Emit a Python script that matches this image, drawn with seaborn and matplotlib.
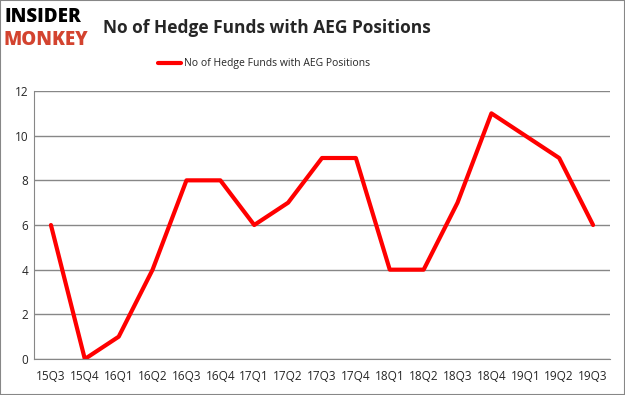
import seaborn as sns
import matplotlib.pyplot as plt
import pandas as pd
from matplotlib.patches import Rectangle

quarters = ['15Q3', '15Q4', '16Q1', '16Q2', '16Q3', '16Q4', '17Q1', '17Q2', '17Q3',
            '17Q4', '18Q1', '18Q2', '18Q3', '18Q4', '19Q1', '19Q2', '19Q3']
funds = [6, 0, 1, 4, 8, 8, 6, 7, 9, 9, 4, 4, 7, 11, 10, 9, 6]
series_name = 'No of Hedge Funds with AEG Positions'

df = pd.DataFrame({'quarter': quarters, 'funds': funds, 'x': range(len(quarters))})

sns.set_style('white')
plt.rcParams['font.family'] = ['Open Sans', 'DejaVu Sans']

fig = plt.figure(figsize=(6.25, 3.95), dpi=100)
ax = fig.add_axes([0.0544, 0.0911, 0.9216, 0.6785])

sns.lineplot(data=df, x='x', y='funds', color='#ff0000', linewidth=3, ax=ax,
             label=series_name)

ax.set_xlim(-0.5, len(quarters) - 0.5)
ax.set_ylim(0, 12)
ax.set_yticks(range(0, 13, 2))
ax.set_xticks(range(len(quarters)))
ax.set_xticklabels(quarters)
ax.set_xticks([i - 0.5 for i in range(len(quarters) + 1)], minor=True)
ax.tick_params(axis='x', which='major', length=0, pad=8, labelsize=8.5)
ax.tick_params(axis='x', which='minor', length=5, color='#878787', width=1)
ax.tick_params(axis='y', length=0, labelsize=8.5, pad=4)
ax.grid(axis='y', color='#878787', linewidth=1)
ax.set_axisbelow(True)
for s in ['top', 'right']:
    ax.spines[s].set_visible(False)
for s in ['left', 'bottom']:
    ax.spines[s].set_color('#878787')
ax.set_xlabel('')
ax.set_ylabel('')

leg = ax.legend(loc='upper center', bbox_to_anchor=(0.4, 1.157), frameon=False,
                fontsize=7.5, handlelength=2.2, handletextpad=0.3)

fig.text(0.165, 0.93, series_name, fontsize=12.5, fontweight='bold', va='center')
fig.text(0.008, 0.957, 'INSIDER', fontsize=13.5, fontweight='heavy', color='black',
         va='center')
fig.text(0.006, 0.898, 'MONKEY', fontsize=13.5, fontweight='heavy', color='#d3432f',
         va='center')

fig.patches.append(Rectangle((0, 0), 1, 1, transform=fig.transFigure, fill=False,
                             edgecolor='#878787', linewidth=1.5))

fig.savefig('out.png', dpi=100)
